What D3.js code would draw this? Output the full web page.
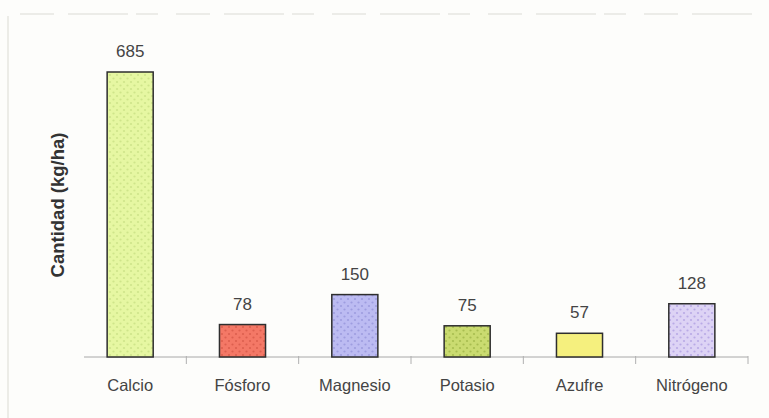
<!DOCTYPE html>
<html>
<head>
<meta charset="utf-8">
<script src="https://cdn.jsdelivr.net/npm/d3@7"></script>
<style>
    html, body { margin: 0; padding: 0; background: #fdfdfb; }
    svg { display: block; }
    text { font-family: "Liberation Sans", Arial, Helvetica, sans-serif; }
</style>
</head>
<body>
<svg id="chart" width="769" height="418"></svg>
<script>
// data
var categories = ["Calcio", "Fósforo", "Magnesio", "Potasio", "Azufre", "Nitrógeno"];
var values = [685, 78, 150, 75, 57, 128];
var fills = ["#e6f7a2", "#f47866", "#bcbbf2", "#cadb70", "#f5f07e", "#ddd3f5"];
var dots = ["#cfe58a", "#dd5f4e", "#9e9de0", "#a8bd4f", "#f5f07e", "#b9aae6"];
var yLabel = "Cantidad (kg/ha)";

var width = 769, height = 418;
var svg = d3.select("#chart");

var x = d3.scaleBand().domain(categories).range([74, 748]).padding(0);
var y = d3.scaleLinear().domain([0, 685]).range([357, 72]);
var barW = x.bandwidth() * 0.41;

// dotted fills, one pattern per bar
var defs = svg.append("defs");
categories.forEach(function(c, i){
    var p = defs.append("pattern")
        .attr("id", "dots" + i)
        .attr("patternUnits", "userSpaceOnUse")
        .attr("width", 7)
        .attr("height", 7);
    p.append("rect").attr("width", 7).attr("height", 7).attr("fill", fills[i]);
    p.append("circle").attr("cx", 1.5).attr("cy", 1.5).attr("r", 1.1).attr("fill", dots[i]);
    p.append("circle").attr("cx", 5).attr("cy", 5).attr("r", 1.1).attr("fill", dots[i]);
});

// faint frame of the scan
svg.append("line")
    .attr("x1", 20).attr("x2", 752).attr("y1", 14).attr("y2", 14)
    .style("stroke", "#dcdcd6").style("stroke-width", 1.2)
    .style("stroke-dasharray", "34, 14, 60, 8, 22, 18");
svg.append("line")
    .attr("x1", 8).attr("x2", 8).attr("y1", 16).attr("y2", 418)
    .style("stroke", "#e6e6e0").style("stroke-width", 1.5);

// baseline with ticks between categories
svg.append("line")
    .attr("x1", 84).attr("x2", 748).attr("y1", y(0)).attr("y2", y(0))
    .style("stroke", "#a8a8a8").style("stroke-width", 1);
var ticks = categories.slice(1).map(function(c){ return x(c); }).concat([748]);
svg.selectAll(".tick")
    .data(ticks)
    .enter().append("line")
    .attr("class", "tick")
    .attr("x1", function(d){ return d; })
    .attr("x2", function(d){ return d; })
    .attr("y1", y(0) - 1)
    .attr("y2", y(0) + 7)
    .style("stroke", "#b0b0b0").style("stroke-width", 1);

// bars
svg.selectAll(".bar")
    .data(values)
    .enter().append("rect")
    .attr("class", "bar")
    .attr("x", function(d, i){ return x(categories[i]) + x.bandwidth() / 2 - barW / 2; })
    .attr("y", function(d){ return y(d); })
    .attr("width", barW)
    .attr("height", function(d){ return y(0) - y(d); })
    .style("fill", function(d, i){ return "url(#dots" + i + ")"; })
    .style("stroke", "#2e2e2e")
    .style("stroke-width", 1.5);

// value labels
svg.selectAll(".val")
    .data(values)
    .enter().append("text")
    .attr("class", "val")
    .attr("x", function(d, i){ return x(categories[i]) + x.bandwidth() / 2; })
    .attr("y", function(d){ return y(d) - 15; })
    .attr("text-anchor", "middle")
    .style("font-size", "17px")
    .style("fill", "#444")
    .text(function(d){ return d; });

// category labels
svg.selectAll(".cat")
    .data(categories)
    .enter().append("text")
    .attr("class", "cat")
    .attr("x", function(d){ return x(d) + x.bandwidth() / 2; })
    .attr("y", 391)
    .attr("text-anchor", "middle")
    .style("font-size", "16.5px")
    .style("fill", "#444")
    .text(function(d){ return d; });

// y axis title
svg.append("text")
    .attr("transform", "translate(64,205) rotate(-90)")
    .attr("text-anchor", "middle")
    .style("font-size", "18.5px")
    .style("font-weight", "bold")
    .style("fill", "#333")
    .text(yLabel);
</script>
</body>
</html>
